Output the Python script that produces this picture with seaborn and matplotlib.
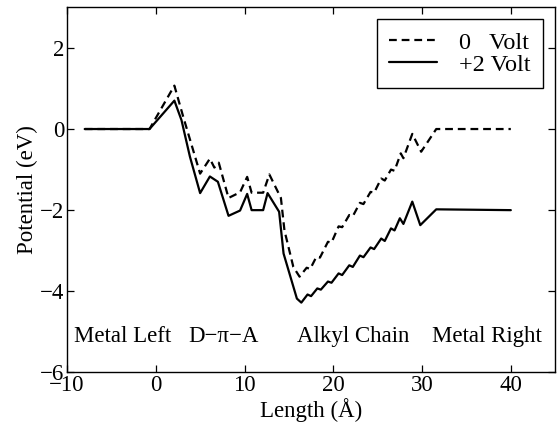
import matplotlib
matplotlib.use("Agg")
import matplotlib.pyplot as plt
import seaborn as sns
import pandas as pd

# 0 Volt (dashed)
x0 = [-8.0, -0.7, 2.1, 3.1, 5.0, 6.1, 6.6, 7.1, 8.2, 9.5, 10.3, 10.8, 12.1, 12.8, 14.1, 14.5,
      15.5, 16.2, 17.0, 17.4, 18.1, 18.5, 19.4, 19.8, 20.6, 21.0, 21.8, 22.2, 23.0, 23.4,
      24.2, 24.6, 25.4, 25.8, 26.5, 26.9, 27.6, 27.9, 28.9, 29.9, 31.6, 40.0]
y0 = [0.0, 0.0, 1.07, 0.3, -1.1, -0.73, -0.95, -0.83, -1.7, -1.56, -1.18, -1.57, -1.57, -1.12, -1.7, -2.5,
      -3.4, -3.64, -3.42, -3.45, -3.15, -3.17, -2.78, -2.80, -2.40, -2.42, -2.12, -2.15, -1.82, -1.85,
      -1.55, -1.57, -1.22, -1.27, -1.0, -1.03, -0.6, -0.72, -0.12, -0.56, 0.0, 0.0]

# +2 Volt (solid)
x2 = [-8.0, -0.7, 2.1, 2.9, 3.85, 5.0, 6.1, 7.0, 8.2, 9.5, 10.3, 10.8, 12.1, 12.6, 13.9, 14.4,
      15.9, 16.4, 17.1, 17.5, 18.2, 18.6, 19.4, 19.8, 20.6, 21.0, 21.8, 22.2, 23.0, 23.4,
      24.2, 24.6, 25.4, 25.8, 26.5, 26.9, 27.5, 27.9, 28.9, 29.8, 31.6, 40.0]
y2 = [0.0, 0.0, 0.7, 0.22, -0.68, -1.58, -1.17, -1.3, -2.14, -2.01, -1.6, -2.0, -2.0, -1.58, -2.04, -3.07,
      -4.18, -4.28, -4.08, -4.12, -3.93, -3.96, -3.76, -3.79, -3.56, -3.60, -3.36, -3.40, -3.12, -3.16,
      -2.92, -2.96, -2.70, -2.76, -2.45, -2.50, -2.20, -2.34, -1.79, -2.37, -1.98, -2.0]

labels = ["0   Volt", "+2 Volt"]
region_labels = ["Metal Left", "D\u2212\u03c0\u2212A", "Alkyl Chain", "Metal Right"]
region_x = [-9.25, 3.7, 15.96, 31.07]
region_y = -5.25

xticks = [-10, 0, 10, 20, 30, 40]
yticks = [-6, -4, -2, 0, 2]

sns.set_style("ticks")
plt.rcParams['font.family'] = ['Liberation Serif', 'DejaVu Serif']
plt.rcParams['text.color'] = 'black'
plt.rcParams['axes.labelcolor'] = 'black'
plt.rcParams['xtick.color'] = 'black'
plt.rcParams['ytick.color'] = 'black'

FS = 16.5

fig = plt.figure(figsize=(5.58, 4.32), dpi=100)
ax = fig.add_axes([0.12, 0.138, 0.875, 0.845])

df0 = pd.DataFrame({"x": x0, "y": y0})
df2 = pd.DataFrame({"x": x2, "y": y2})
sns.lineplot(data=df0, x="x", y="y", ax=ax, color="black", lw=1.6, sort=False,
             estimator=None, label=labels[0])
sns.lineplot(data=df2, x="x", y="y", ax=ax, color="black", lw=1.6, sort=False,
             estimator=None, label=labels[1])
ax.lines[0].set_linestyle((0, (3.5, 2.2)))

for t, xx in zip(region_labels, region_x):
    ax.text(xx, region_y, t, fontsize=FS, ha="left", va="baseline", color="black")

ax.set_xlim(-10, 45)
ax.set_ylim(-6, 3)
ax.set_xticks(xticks)
ax.set_yticks(yticks)
ax.set_xticklabels([f"\u2212{abs(v)}" if v < 0 else str(v) for v in xticks])
ax.set_yticklabels([f"\u2212{abs(v)}" if v < 0 else str(v) for v in yticks])
ax.tick_params(direction="in", top=True, right=True, length=5, width=0.9,
               labelsize=FS, colors="black", pad=2)
for s in ax.spines.values():
    s.set_color("black")
    s.set_linewidth(1.0)
ax.set_xlabel("Length (\u00c5)", fontsize=FS, labelpad=1, color="black")
ax.set_ylabel("Potential (eV)", fontsize=FS, labelpad=1, color="black")

leg = ax.legend(loc="upper right", fontsize=17.5, frameon=True, fancybox=False,
                edgecolor="black", framealpha=1, handlelength=2.0, borderpad=0.5,
                labelspacing=0.0, borderaxespad=0.5, handletextpad=0.9)
leg.get_frame().set_linewidth(1.0)
for t in leg.get_texts():
    t.set_color("black")
leg.get_lines()[0].set_linestyle((0, (3.5, 2.2)))

fig.savefig("out.png", dpi=100)
